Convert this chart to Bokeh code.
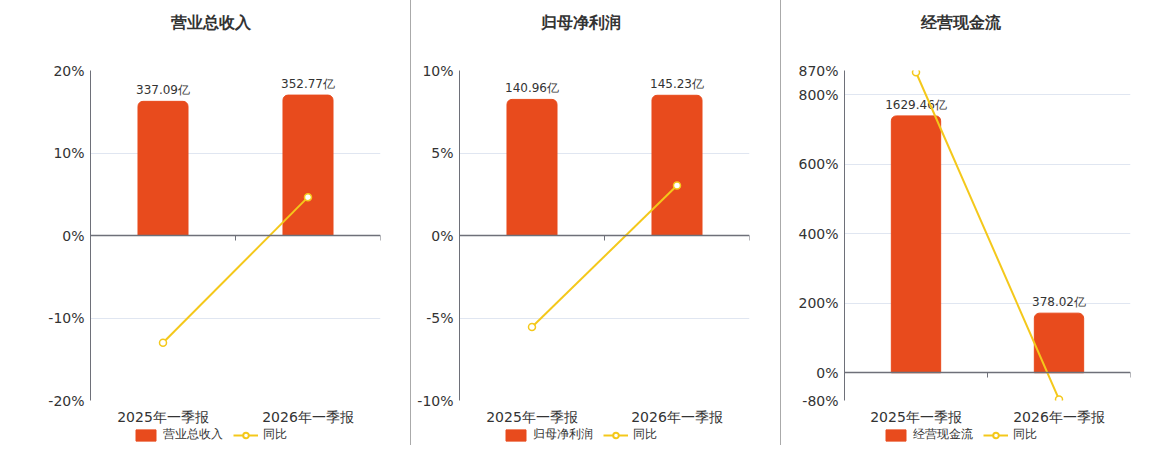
from bokeh.plotting import figure
from bokeh.models import (Range1d, LinearAxis, FixedTicker, PrintfTickFormatter, Title,
                          Legend, LegendItem, ColumnDataSource)
from bokeh.layouts import row, column
from bokeh.embed import file_html
from bokeh.resources import INLINE

categories = ["2025年一季报", "2026年一季报"]

revenue = [337.09, 352.77]
revenue_yoy = [-13.0, 4.65]
revenue_ticks = [-20, -10, 0, 10, 20]

profit = [140.96, 145.23]
profit_yoy = [-5.55, 3.03]
profit_ticks = [-10, -5, 0, 5, 10]

cashflow = [1629.46, 378.02]
cashflow_yoy = [865.0, -76.8]
cashflow_ticks = [-80, 0, 200, 400, 600, 800, 870]

BAR = "#E84B1D"
LINE = "#F4C81B"
AXIS = "#6E7079"
GRID = "#E0E6F1"
TXT = "#333333"
FONT = "DejaVu Sans"
NAN = float("nan")


def panel(title, bar_name, values, yoy, ticks, bar_range, width, left, right,
          title_offset, legend_x, sep):
    p = figure(width=width, height=427, output_backend="svg", toolbar_location=None,
               x_range=Range1d(0, len(categories)),
               y_range=Range1d(ticks[0], ticks[-1]),
               min_border_left=left, min_border_right=right,
               min_border_top=70, min_border_bottom=22)
    p.outline_line_color = None
    p.background_fill_color = "white"
    p.border_fill_color = "white"
    p.extra_y_ranges = {"bar": Range1d(bar_range[0], bar_range[1])}

    xs = [i + 0.5 for i in range(len(categories))]
    src = ColumnDataSource(dict(x=xs, v=values, yoy=yoy,
                                lab=[f"{v:.2f}亿" for v in values]))

    p.vbar(x="x", top="v", bottom=0, width=0.345, source=src, color=BAR,
           y_range_name="bar", border_radius=(5, 5, 0, 0))
    p.text(x="x", y="v", text="lab", source=src, y_range_name="bar",
           text_align="center", text_baseline="bottom", y_offset=-4,
           text_font_size="12px", text_color=TXT, text_font={"value": FONT})
    p.line(x="x", y="yoy", source=src, line_color=LINE, line_width=2)
    p.scatter(x="x", y="yoy", source=src, marker="circle", size=7,
              fill_color="white", line_color=LINE, line_width=1.5)

    ya = p.yaxis[0]
    ya.ticker = FixedTicker(ticks=ticks)
    ya.formatter = PrintfTickFormatter(format="%d%%")
    ya.axis_line_color = AXIS
    ya.major_tick_line_color = None
    ya.minor_tick_line_color = None
    ya.major_tick_out = 0
    ya.major_tick_in = 0
    ya.major_label_standoff = 6
    ya.major_label_text_font_size = "14px"
    ya.major_label_text_color = TXT
    ya.major_label_text_font = FONT
    p.ygrid.ticker = FixedTicker(ticks=ticks)
    p.ygrid.grid_line_color = GRID
    p.xgrid.grid_line_color = None

    xa = p.xaxis[0]
    xa.ticker = FixedTicker(ticks=xs)
    xa.major_label_overrides = {x: c for x, c in zip(xs, categories)}
    xa.axis_line_color = None
    xa.major_tick_line_color = None
    xa.minor_tick_line_color = None
    xa.major_tick_out = 0
    xa.major_tick_in = 0
    xa.major_label_standoff = 8
    xa.major_label_text_font_size = "14px"
    xa.major_label_text_color = TXT
    xa.major_label_text_font = FONT

    za = LinearAxis(fixed_location=0, ticker=FixedTicker(ticks=list(range(len(categories) + 1))),
                    axis_line_color=AXIS, axis_line_width=1.5,
                    major_tick_line_color=AXIS, major_tick_out=5, major_tick_in=0,
                    minor_tick_line_color=None, major_label_text_alpha=0,
                    major_label_text_font_size="1px")
    p.add_layout(za, "below")

    p.add_layout(Title(text=title + "\n", align="left", offset=title_offset, standoff=20,
                       text_line_height=1.5,
                       text_font_size="16px", text_font_style="bold",
                       text_color=TXT, text_font=FONT), "above")

    # legend strip
    q = figure(width=width, height=18, output_backend="svg", toolbar_location=None,
               x_range=Range1d(0, 1), y_range=Range1d(0, 1),
               min_border_left=0, min_border_right=0, min_border_top=0, min_border_bottom=0)
    q.axis.visible = False
    q.grid.visible = False
    q.outline_line_color = None
    q.background_fill_color = "white"
    q.border_fill_color = "white"
    hidden = ColumnDataSource(dict(x=[NAN], y=[NAN]))
    lb = q.vbar(x="x", top="y", width=0.1, source=hidden, color=BAR, border_radius=3)
    ll = q.line(x="x", y="y", source=hidden, line_color=LINE, line_width=2)
    lp = q.scatter(x="x", y="y", source=hidden, marker="circle", size=11,
                   fill_color="white", line_color=LINE, line_width=2)
    leg = Legend(items=[LegendItem(label=bar_name, renderers=[lb]),
                        LegendItem(label="同比", renderers=[ll, lp])],
                 orientation="horizontal", location=(legend_x, 2),
                 glyph_width=25, glyph_height=14, label_height=14,
                 label_text_font_size="12px", label_text_color=TXT, label_text_font=FONT,
                 padding=0, margin=0, spacing=10, label_standoff=5,
                 border_line_alpha=0, background_fill_alpha=0)
    q.add_layout(leg, "center")

    col = column(p, q, spacing=0)
    if sep:
        col.styles = {"border-left": "1px solid #AAAAAA"}
    return col


p1 = panel("营业总收入", "营业总收入", revenue, revenue_yoy, revenue_ticks,
           (-414.6, 414.6), 410, 90, 30, 80, 43, False)
p2 = panel("归母净利润", "归母净利润", profit, profit_yoy, profit_ticks,
           (-170.9, 170.9), 369, 48, 31, 81, 44, True)
p3 = panel("经营现金流", "经营现金流", cashflow, cashflow_yoy, cashflow_ticks,
           (-176.0, 1917.5), 369, 63, 20, 76, 39, True)

layout = row(p1, p2, p3, spacing=0)
open("out.html", "w").write(file_html(layout, INLINE))
